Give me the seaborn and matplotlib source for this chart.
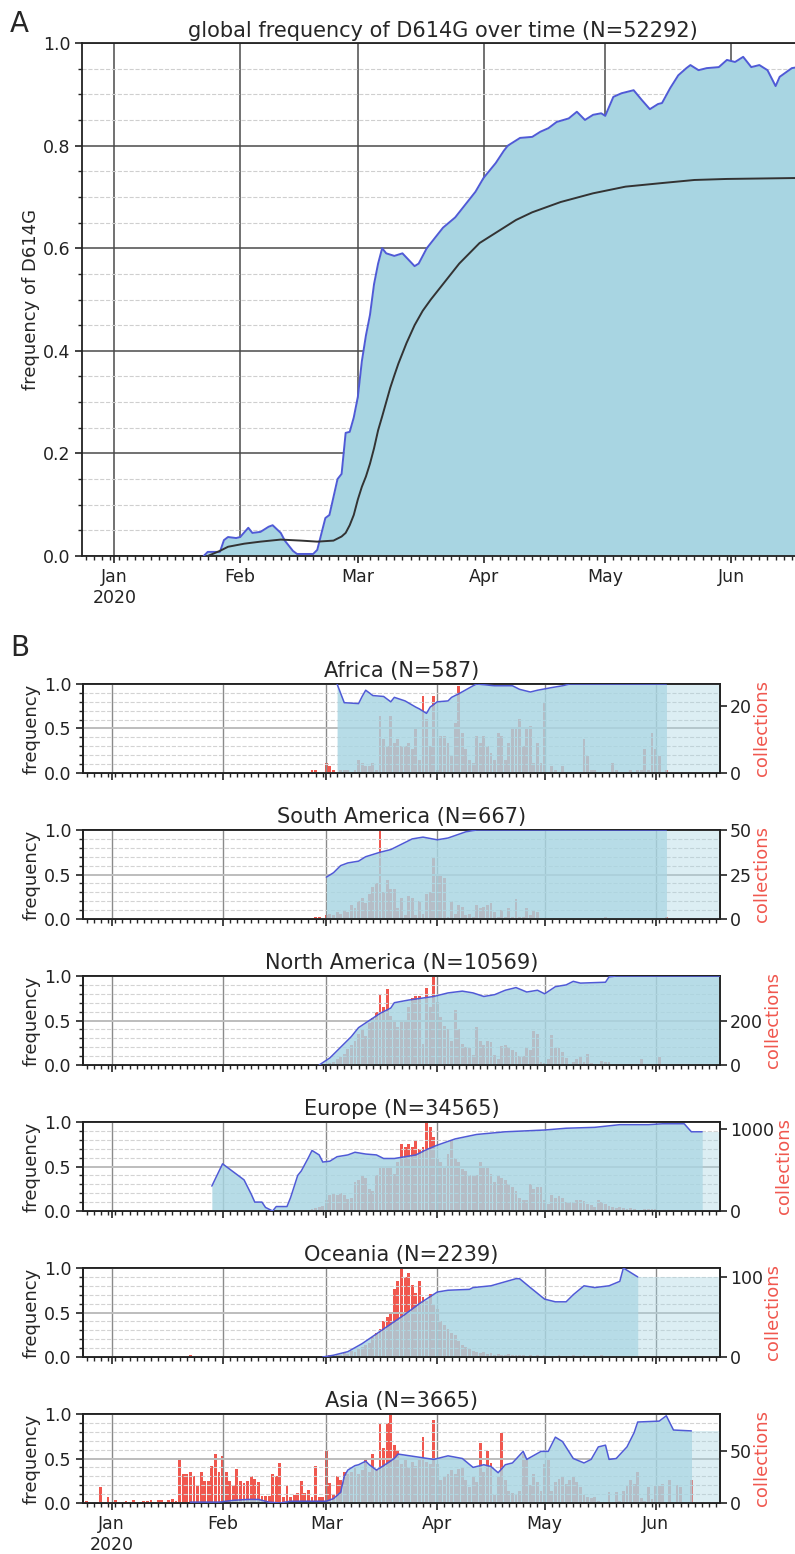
import numpy as np
import pandas as pd
import seaborn as sns
import matplotlib
matplotlib.use("Agg")
import matplotlib.pyplot as plt
import matplotlib.dates as mdates
from matplotlib.ticker import MultipleLocator, FixedLocator, FuncFormatter

# ---- data (day numbers are days since 2020-01-01) ----
X_START, X_END = -8, 170

# panel A: global frequency
glob_days = [22, 23, 26, 27, 28, 30, 31, 33, 34, 36, 38, 39, 41, 42, 44, 45, 49, 50, 52, 53,
             54, 55, 56, 57, 58, 59, 60, 61, 62, 63, 64, 65, 66, 67, 69, 71, 74, 75, 77, 80,
             81, 84, 87, 89, 91, 94, 96, 97, 100, 103, 105, 107, 109, 112, 114, 116, 118, 120, 121, 123,
             125, 128, 130, 132, 134, 135, 137, 139, 141, 142, 144, 146, 149, 151, 153, 155, 157, 159, 161, 163,
             164, 167, 170]
glob_freq = [0.0, 0.008, 0.008, 0.031, 0.037, 0.035, 0.037, 0.055, 0.045, 0.047, 0.057, 0.06, 0.045, 0.03, 0.01, 0.004, 0.004, 0.012, 0.074, 0.08,
             0.115, 0.15, 0.16, 0.24, 0.242, 0.27, 0.31, 0.38, 0.43, 0.47, 0.53, 0.57, 0.60, 0.59, 0.585, 0.59, 0.565, 0.57, 0.60, 0.63,
             0.64, 0.66, 0.69, 0.71, 0.737, 0.766, 0.79, 0.80, 0.815, 0.817, 0.827, 0.834, 0.846, 0.853, 0.866, 0.85, 0.86, 0.863, 0.858, 0.895,
             0.902, 0.908, 0.889, 0.871, 0.881, 0.883, 0.912, 0.937, 0.951, 0.957, 0.947, 0.951, 0.953, 0.967, 0.963, 0.973, 0.953, 0.957, 0.947, 0.916,
             0.934, 0.951, 0.955]
fit_days = [23, 26, 28, 32, 36, 41, 46, 50, 54, 56, 57, 58, 59, 60, 61, 62, 63, 64, 65, 66,
            67, 68, 69, 70, 72, 74, 76, 78, 81, 85, 90, 94, 99, 103, 110, 118, 126, 135, 143, 151,
            170]
fit_freq = [0.0, 0.01, 0.018, 0.024, 0.028, 0.032, 0.03, 0.028, 0.03, 0.038, 0.045, 0.06, 0.08, 0.11, 0.135, 0.155, 0.18, 0.21, 0.245, 0.272,
            0.30, 0.328, 0.352, 0.375, 0.415, 0.45, 0.478, 0.50, 0.53, 0.57, 0.61, 0.63, 0.655, 0.67, 0.69, 0.707, 0.72, 0.727, 0.733, 0.735,
            0.737]

# panel B: regions
africa_days = [63, 65, 69, 70, 71, 73, 76, 78, 79, 82, 85, 86, 88, 89, 91, 94, 95, 97, 101, 102, 107, 112, 114, 117, 119, 123, 126, 128, 155]
africa_freq = [1.0, 0.79, 0.78, 0.86, 0.93, 0.87, 0.86, 0.80, 0.85, 0.81, 0.74, 0.72, 0.67, 0.74, 0.80, 0.81, 0.85, 0.89, 0.98, 1.0, 0.98, 0.98, 0.94, 0.91, 0.93, 0.96, 0.98, 1.0, 1.0]
africa_start = 56
africa_counts = [1, 1, 0, 0, 3, 2, 1, 0, 1, 1, 1, 0, 1, 4, 3, 2, 2, 3, 1, 17,
                 10, 8, 17, 9, 10, 8, 8, 9, 7, 13, 4, 23, 16, 8, 23, 1, 11, 11, 9, 5,
                 15, 26, 12, 7, 4, 3, 11, 9, 11, 8, 6, 4, 12, 11, 4, 9, 13, 13, 16, 8,
                 13, 14, 3, 9, 3, 21, 0, 2, 1, 0, 2, 0, 0, 0, 0, 0, 10, 5, 1, 1,
                 0, 0, 0, 0, 3, 1, 0, 0, 0, 1, 0, 1, 1, 7, 1, 12, 7, 5, 0, 1]

samer_days = [60, 62, 64, 66, 69, 71, 75, 78, 79, 84, 87, 91, 94, 99, 102, 155]
samer_freq = [0.47, 0.52, 0.60, 0.63, 0.65, 0.70, 0.75, 0.78, 0.80, 0.90, 0.92, 0.89, 0.91, 0.98, 1.0, 1.0]
samer_start = 57
samer_counts = [1, 1, 0, 2, 3, 2, 4, 3, 5, 4, 8, 6, 10, 12, 9, 14, 18, 20, 50, 15,
                22, 17, 17, 6, 12, 2, 13, 12, 2, 10, 3, 14, 15, 35, 25, 24, 23, 1, 10, 3,
                8, 7, 2, 3, 1, 8, 6, 7, 8, 9, 4, 1, 5, 1, 6, 1, 11, 1, 1, 6,
                2, 5, 4, 0, 0, 0, 0, 0, 0, 0, 0, 0, 0, 0, 0, 0, 0, 0, 0, 0,
                0, 1, 0, 0, 0, 0, 0, 0, 0, 0, 0, 0, 0, 0, 0, 0, 0, 0, 1]

namer_days = [58, 61, 64, 67, 69, 72, 75, 78, 79, 83, 90, 94, 98, 101, 104, 107, 110, 113, 116, 119,
              121, 124, 127, 129, 131, 138, 139, 141, 170]
namer_freq = [0.0, 0.08, 0.2, 0.32, 0.42, 0.5, 0.58, 0.64, 0.70, 0.73, 0.77, 0.81, 0.83, 0.81, 0.77, 0.79, 0.84, 0.87, 0.82, 0.84,
              0.80, 0.88, 0.90, 0.94, 0.92, 0.93, 0.99, 1.0, 1.0]
namer_start = 57
namer_counts = [1, 2, 3, 5, 8, 15, 25, 35, 50, 70, 90, 110, 140, 160, 130, 190, 210, 240, 320, 260,
                340, 220, 196, 170, 200, 200, 262, 300, 310, 310, 96, 345, 262, 400, 285, 215, 175, 163, 110, 245,
                160, 96, 82, 75, 45, 170, 110, 90, 110, 105, 45, 25, 85, 90, 80, 68, 60, 40, 40, 80,
                68, 155, 140, 12, 8, 25, 133, 75, 75, 60, 32, 5, 12, 25, 40, 12, 48, 10, 3, 2,
                20, 15, 12, 3, 2, 2, 1, 2, 3, 2, 3, 25, 2, 2, 3, 2, 35, 2, 1]

europe_days = [28, 31, 32, 35, 37, 39, 40, 42, 43, 45, 46, 49, 50, 52, 53, 55, 56, 58, 59, 61,
               63, 66, 68, 71, 74, 76, 79, 85, 88, 91, 96, 102, 110, 121, 127, 135, 142, 150, 154, 160,
               162, 165]
europe_freq = [0.28, 0.53, 0.5, 0.41, 0.35, 0.19, 0.1, 0.1, 0.04, 0.0, 0.05, 0.05, 0.15, 0.40, 0.45, 0.60, 0.68, 0.63, 0.55, 0.56,
               0.61, 0.63, 0.66, 0.64, 0.63, 0.59, 0.59, 0.63, 0.69, 0.74, 0.81, 0.86, 0.89, 0.91, 0.93, 0.94, 0.97, 0.97, 0.98, 0.98,
               0.89, 0.89]
europe_start = 55
europe_counts = [10, 20, 40, 50, 60, 140, 195, 217, 195, 217, 195, 150, 163, 355, 380, 434, 400, 270, 240, 434,
                 540, 540, 520, 540, 450, 600, 815, 780, 815, 780, 850, 760, 780, 1085, 1020, 900, 650, 600, 540, 700,
                 870, 650, 600, 510, 490, 434, 434, 434, 600, 540, 520, 455, 350, 434, 400, 380, 325, 290, 240, 163,
                 140, 140, 325, 270, 290, 290, 130, 87, 195, 163, 185, 163, 108, 108, 108, 140, 130, 120, 87, 76,
                 54, 130, 108, 87, 65, 43, 33, 43, 33, 22, 33, 22, 11, 11, 22, 22, 22, 22, 11, 11,
                 5, 3, 2, 0, 0, 0]

oceania_days = [59, 62, 66, 70, 74, 78, 82, 86, 91, 94, 100, 101, 106, 113, 114, 117, 121, 124, 127, 129,
                132, 135, 139, 142, 143, 145, 147]
oceania_freq = [0.0, 0.02, 0.06, 0.15, 0.26, 0.37, 0.48, 0.6, 0.73, 0.75, 0.76, 0.78, 0.8, 0.88, 0.88, 0.78, 0.65, 0.62, 0.62, 0.7,
                0.8, 0.78, 0.8, 0.85, 1.0, 0.95, 0.9]
oceania_start = 58
oceania_counts = [1, 0, 1, 2, 1, 3, 3, 5, 4, 8, 6, 10, 12, 15, 18, 25, 30, 35, 45, 50,
                  55, 85, 95, 111, 100, 105, 90, 80, 95, 75, 70, 78, 65, 60, 45, 40, 35, 30, 28, 20,
                  15, 12, 10, 8, 6, 5, 6, 4, 5, 3, 4, 3, 2, 4, 3, 2, 3, 2, 1, 2,
                  1, 2, 1, 2, 1, 0, 1, 2, 0, 1, 0, 3, 1, 0, 2, 1, 0, 1, 0, 2,
                  1, 0, 1, 0, 0, 1, 0, 1, 0]
oceania_early_days = [22, 23, 52]
oceania_early_counts = [2, 1, 1]

asia_days = [22, 30, 34, 38, 41, 44, 47, 50, 57, 60, 62, 64, 65, 66, 68, 69, 71, 72, 74, 76,
             79, 80, 85, 90, 94, 98, 101, 104, 106, 108, 110, 112, 115, 116, 120, 122, 124, 126, 129, 132,
             134, 136, 138, 139, 141, 144, 146, 147, 153, 155, 157, 162]
asia_freq = [0.01, 0.01, 0.03, 0.04, 0.04, 0.01, 0.0, 0.02, 0.02, 0.02, 0.05, 0.12, 0.30, 0.37, 0.42, 0.43, 0.47, 0.43, 0.37, 0.42,
             0.50, 0.55, 0.52, 0.49, 0.53, 0.50, 0.40, 0.43, 0.41, 0.34, 0.43, 0.45, 0.58, 0.49, 0.58, 0.58, 0.74, 0.69, 0.50, 0.45,
             0.49, 0.63, 0.65, 0.49, 0.50, 0.63, 0.79, 0.91, 0.92, 0.98, 0.82, 0.81]
asia_start = 19
asia_counts = [43, 28, 28, 30, 26, 17, 30, 21, 21, 36, 47, 30, 45, 30, 21, 17, 33, 21, 19, 21,
               26, 23, 20, 7, 7, 7, 28, 26, 39, 6, 17, 6, 8, 10, 21, 10, 13, 6, 36, 6,
               6, 50, 19, 9, 26, 22, 30, 28, 30, 34, 28, 32, 43, 30, 47, 32, 76, 53, 77, 86,
               56, 50, 38, 43, 35, 40, 36, 42, 64, 40, 38, 80, 38, 22, 25, 28, 32, 28, 33, 35,
               22, 15, 25, 20, 58, 30, 50, 39, 8, 25, 68, 22, 12, 10, 8, 12, 47, 43, 17, 28,
               20, 12, 38, 43, 12, 20, 23, 25, 18, 22, 25, 20, 15, 8, 6, 5, 6, 2, 0, 0,
               11, 0, 11, 2, 12, 17, 22, 18, 30, 5, 2, 15, 4, 16, 16, 18, 1, 22, 1, 17,
               15, 1, 0, 22]
asia_early_days = [-7, -3, -1, 1, 4, 6, 9, 10, 11, 13, 14, 16, 17, 18]
asia_early_counts = [2, 15, 6, 3, 2, 3, 2, 2, 3, 3, 3, 3, 4, 2]

region_names = ["Africa", "South America", "North America", "Europe", "Oceania", "Asia"]
region_n = [587, 667, 10569, 34565, 2239, 3665]
region_cmax = [26.5, 50, 400, 1085, 111, 86]
region_cticks = [[0, 20], [0, 25, 50], [0, 200], [0, 1000], [0, 100], [0, 50]]

# ---- style ----
sns.set_style("ticks")
plt.rcParams["font.family"] = ["DejaVu Sans"]
FILL = "#a8d5e2"
LINE = "#4f5ad6"
RED = "#f0574e"
BASE = pd.Timestamp("2020-01-01")


def to_dates(days):
    return BASE + pd.to_timedelta(np.asarray(days, dtype=float), unit="D")


def month_fmt(x, pos):
    dt = mdates.num2date(x)
    return dt.strftime("%b\n%Y") if dt.month == 1 else dt.strftime("%b")


def style_time_axis(ax, labels=True):
    ax.set_xlim(to_dates([X_START])[0], to_dates([X_END])[0])
    ax.xaxis.set_major_locator(mdates.MonthLocator())
    ax.xaxis.set_minor_locator(mdates.DayLocator(interval=2))
    ax.xaxis.set_major_formatter(FuncFormatter(month_fmt))
    ax.tick_params(axis="both", which="major", direction="out", length=5, width=1.2,
                   labelsize=12.5, colors="#222222")
    ax.tick_params(axis="both", which="minor", direction="out", length=3, width=1)
    if not labels:
        ax.tick_params(axis="x", labelbottom=False)
    for s in ax.spines.values():
        s.set_linewidth(1.3)
        s.set_color("#222222")
    ax.set_xlabel("")


fig = plt.figure(figsize=(7.95, 15.54), dpi=100)

# ---- panel A ----
axA = fig.add_axes([82 / 795, 1 - 556 / 1554, 722 / 795, 513 / 1554])
gd = to_dates(glob_days)
axA.fill_between(gd, 0, glob_freq, color=FILL, lw=0, zorder=2)
sns.lineplot(x=gd, y=glob_freq, ax=axA, color=LINE, lw=1.4, zorder=3)
sns.lineplot(x=to_dates(fit_days), y=fit_freq, ax=axA, color="#333333", lw=1.4, zorder=4)
axA.set_ylim(0, 1)
axA.yaxis.set_major_locator(MultipleLocator(0.2))
axA.yaxis.set_minor_locator(MultipleLocator(0.05))
axA.yaxis.set_major_formatter(FuncFormatter(lambda v, p: f"{v:.1f}"))
axA.set_axisbelow(True)
axA.grid(which="major", color="#4a4a4a", lw=1.1)
axA.grid(which="minor", axis="y", color="#cfcfcf", lw=0.8, ls="--")
style_time_axis(axA)
axA.set_ylabel("frequency of D614G", fontsize=13, labelpad=2)
axA.set_title("global frequency of D614G over time (N=52292)", fontsize=15, pad=4)
fig.text(10 / 795, 1 - 10 / 1554, "A", fontsize=20, va="top", ha="left")
fig.text(10 / 795, 1 - 634 / 1554, "B", fontsize=20, va="top", ha="left")

# ---- panel B ----
regions = [
    (africa_days, africa_freq, africa_start, africa_counts, [], []),
    (samer_days, samer_freq, samer_start, samer_counts, [], []),
    (namer_days, namer_freq, namer_start, namer_counts, [], []),
    (europe_days, europe_freq, europe_start, europe_counts, [], []),
    (oceania_days, oceania_freq, oceania_start, oceania_counts, oceania_early_days, oceania_early_counts),
    (asia_days, asia_freq, asia_start, asia_counts, asia_early_days, asia_early_counts),
]
tops = [684, 830, 976, 1122, 1268, 1414]
for i, (ldays, lfreq, start, counts, edays, ecounts) in enumerate(regions):
    ax = fig.add_axes([83 / 795, 1 - (tops[i] + 89) / 1554, 637 / 795, 89 / 1554])
    ax2 = ax.twinx()
    # frequency axis drawn over the collection bars
    ax.set_zorder(ax2.get_zorder() + 1)
    ax.patch.set_visible(False)

    bdays = list(range(start, start + len(counts))) + edays
    bcounts = counts + ecounts
    ax2.bar(to_dates(bdays), bcounts, width=0.8, color=RED, lw=0)
    ax2.set_ylim(0, region_cmax[i])
    ax2.yaxis.set_major_locator(FixedLocator(region_cticks[i]))
    ax2.set_ylabel("collections", color=RED, fontsize=13, labelpad=1)
    ax2.tick_params(axis="y", direction="out", length=5, width=1.2, labelsize=12.5, colors="#222222", pad=2)

    ld = to_dates(ldays)
    ax.fill_between(ld, 0, lfreq, color=FILL, alpha=0.82, lw=0, zorder=2)
    ext = to_dates([ldays[-1], X_END])
    ax.fill_between(ext, 0, [lfreq[-1], lfreq[-1]], color=FILL, alpha=0.4, lw=0, zorder=2)
    sns.lineplot(x=ld, y=lfreq, ax=ax, color=LINE, lw=1.1, zorder=3)

    ax.set_ylim(0, 1)
    ax.yaxis.set_major_locator(MultipleLocator(0.5))
    ax.yaxis.set_minor_locator(MultipleLocator(0.1))
    ax.yaxis.set_major_formatter(FuncFormatter(lambda v, p: f"{v:.1f}"))
    ax.set_axisbelow(True)
    ax.grid(which="major", axis="x", color="#8a8a8a", lw=1)
    ax.grid(which="major", axis="y", color="#bdbdbd", lw=1.4)
    ax.grid(which="minor", axis="y", color="#d3d3d3", lw=0.8, ls="--")
    style_time_axis(ax, labels=(i == len(regions) - 1))
    ax2.set_xlim(ax.get_xlim())
    for s in ax2.spines.values():
        s.set_linewidth(1.3)
        s.set_color("#222222")
    ax.set_ylabel("frequency", fontsize=13, labelpad=2)
    ax.set_title(f"{region_names[i]} (N={region_n[i]})", fontsize=15, pad=5)

fig.savefig("out.png", dpi=100)
